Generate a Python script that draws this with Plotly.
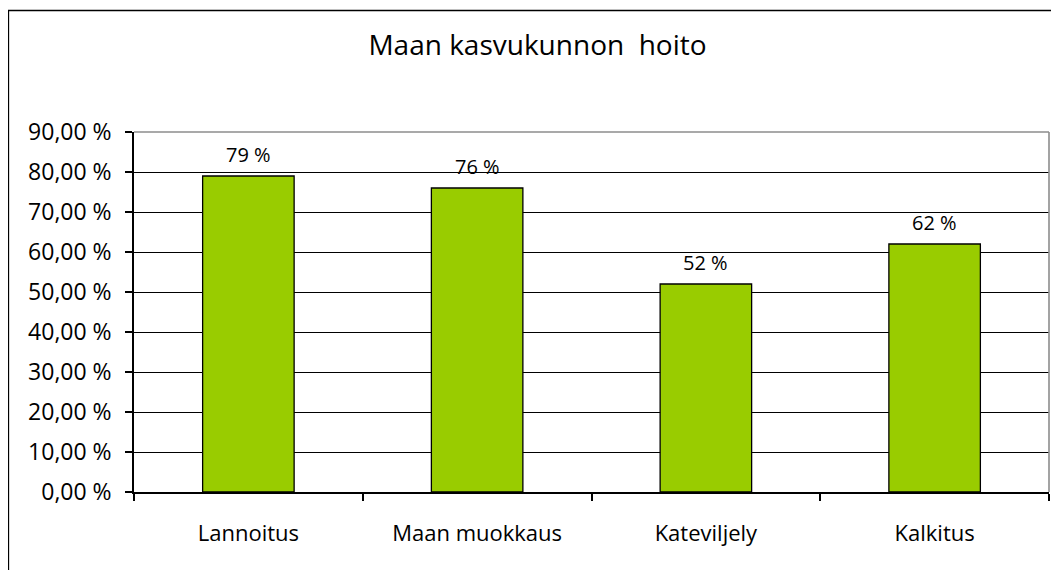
import plotly.graph_objects as go

categories = ["Lannoitus", "Maan muokkaus", "Kateviljely", "Kalkitus"]
values = [79, 76, 52, 62]
value_labels = ["79 %", "76 %", "52 %", "62 %"]
tick_vals = [0, 10, 20, 30, 40, 50, 60, 70, 80, 90]
tick_text = ["0,00 %", "10,00 %", "20,00 %", "30,00 %", "40,00 %",
             "50,00 %", "60,00 %", "70,00 %", "80,00 %", "90,00 %"]
title_text = "Maan kasvukunnon\u00a0 hoito"

FONT = "Open Sans"
OFF = 8  # page body margin

fig = go.Figure()
fig.add_trace(go.Bar(
    x=categories, y=values, width=0.4,
    marker=dict(color="#99CC00", line=dict(color="#000000", width=1.3)),
    hoverinfo="skip",
))

for c, v, t in zip(categories, values, value_labels):
    fig.add_annotation(x=c, y=v, text=t, showarrow=False, yanchor="bottom",
                       yshift=6, font=dict(family=FONT, size=20, color="#000"))

W, H = 1059 - OFF, 570 - OFF
L, T = 134 - OFF, 132 - OFF
R = W - (1049 - OFF)
B = H - (492 - OFF)
pw, ph = W - L - R, H - T - B

def px(x):
    return (x - OFF - L) / pw

def py(y):
    return (H - B - (y - OFF)) / ph

# outer chart border (extends past right/bottom of the view)
fig.add_shape(type="rect", xref="paper", yref="paper",
              x0=px(8.5), x1=px(1075), y0=py(10.5), y1=py(590),
              line=dict(color="#000", width=1.3), layer="below")
# grey plot-area border top and right
fig.add_shape(type="line", xref="paper", yref="paper", x0=0, x1=1, y0=1, y1=1,
              line=dict(color="#8c8c8c", width=1.6))
fig.add_shape(type="line", xref="paper", yref="paper", x0=1, x1=1, y0=0, y1=1,
              line=dict(color="#8c8c8c", width=1.6))

fig.update_layout(
    width=W, height=H,
    margin=dict(l=L, r=R, t=T, b=B, pad=0),
    paper_bgcolor="#ffffff", plot_bgcolor="#ffffff",
    showlegend=False,
    font=dict(family=FONT, size=22, color="#000"),
    title=dict(text=title_text, x=(537.5 - OFF) / W, xref="container", xanchor="center",
               y=1 - (45 - OFF) / H, yref="container", yanchor="middle",
               font=dict(family=FONT, size=28, color="#000")),
    xaxis=dict(showline=True, linecolor="#000", linewidth=1.5,
               ticks="outside", ticklen=7, tickcolor="#000", tickwidth=1.5,
               tickson="boundaries", showgrid=False, ticklabelstandoff=21,
               tickfont=dict(family=FONT, size=22, color="#000"), fixedrange=True),
    yaxis=dict(range=[0, 90], tickvals=tick_vals, ticktext=tick_text,
               showline=True, linecolor="#000", linewidth=1.5,
               ticks="outside", ticklen=7, tickcolor="#000", tickwidth=1.5,
               showgrid=True, gridcolor="#000", gridwidth=1.2,
               zeroline=False, ticklabelstandoff=9,
               tickfont=dict(family=FONT, size=23, color="#000"), fixedrange=True),
)

fig.write_html("out.html")
